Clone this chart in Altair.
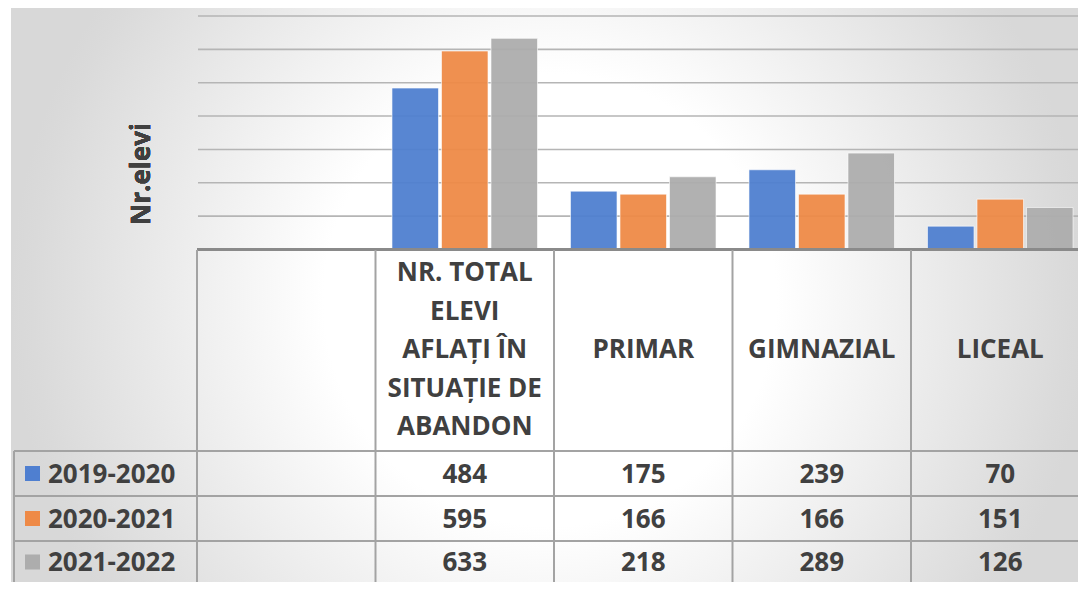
import altair as alt
import pandas as pd

# ---------------- data ----------------
categories = ["", "NR. TOTAL\nELEVI\nAFLAȚI ÎN\nSITUAȚIE DE\nABANDON", "PRIMAR", "GIMNAZIAL", "LICEAL"]
years = ["2019-2020", "2020-2021", "2021-2022"]
v_2019_2020 = [484, 175, 239, 70]
v_2020_2021 = [595, 166, 166, 151]
v_2021_2022 = [633, 218, 289, 126]
grid_values = [100, 200, 300, 400, 500, 600, 700]
y_title = "Nr.elevi"
colors = ["#4f7fd0", "#ee8a47", "#adadad"]

series = {years[0]: v_2019_2020, years[1]: v_2020_2021, years[2]: v_2021_2022}
rows = []
for yr in years:
    for c, v in zip(categories[1:], series[yr]):
        rows.append({"cat": c, "year": yr, "value": v})
df = pd.DataFrame(rows)
df_cats = pd.DataFrame({"cat": categories})
df_grid = pd.DataFrame({"g": grid_values})
df_years = pd.DataFrame({"year": years})

# ---------------- layout (pixels) ----------------
W, H = 1070, 574
LEFT = 189
STEP = 178.5
BASE = 241.5
YMAX = 724
ROW_TOP = 242
HDR_BOTTOM = 443
ROW_LINES = [443, 488, 533]
ROW_CENTERS = [465.5, 510.5, 554]
HDR_CENTER = 342
RH_LEFT = 6
LH = 38.5

FONT = "Open Sans"
FS = 26
TXT = "#404040"
LINE = "#a3a3a3"

xscale = alt.Scale(domain=categories, range=[LEFT, LEFT + 5 * STEP], paddingInner=0, paddingOuter=0)
yscale = alt.Scale(domain=[0, YMAX], range=[BASE, 0], nice=False, zero=True)
cscale = alt.Scale(domain=years, range=colors)
X = alt.X("cat:N", scale=xscale, axis=None)

# background radial gradient
bg = alt.Chart(pd.DataFrame({"a": [0]})).mark_rect(
    fill=alt.RadialGradient(
        gradient="radial", x1=0.5, y1=0.5, x2=0.5, y2=0.5, r1=0, r2=0.5,
        stops=[
            alt.GradientStop(offset=0, color="#ffffff"),
            alt.GradientStop(offset=0.42, color="#ffffff"),
            alt.GradientStop(offset=0.96, color="#dadada"),
            alt.GradientStop(offset=1, color="#d8d8d8"),
        ],
    )
).encode(x=alt.value(542 - 539), x2=alt.value(542 + 539), y=alt.value(292 - 539), y2=alt.value(292 + 539))

grid = alt.Chart(df_grid).mark_rule(color="#b5b5b5", strokeWidth=1.6).encode(
    y=alt.Y("g:Q", scale=yscale, axis=None),
    x=alt.value(LEFT + 1), x2=alt.value(W),
)

bars = alt.Chart(df).mark_bar(stroke="#ffffff", strokeWidth=1, strokeOpacity=0.6, fillOpacity=0.95).encode(
    x=X,
    xOffset=alt.XOffset("year:N", scale=alt.Scale(domain=years, paddingInner=0.06, paddingOuter=0.333)),
    y=alt.Y("value:Q", scale=yscale, axis=None),
    color=alt.Color("year:N", scale=cscale, legend=None),
)

axis_line = alt.Chart(df_grid).mark_rule(color="#8a8a8a", strokeWidth=2.5).encode(
    x=alt.value(LEFT), x2=alt.value(W), y=alt.value(BASE)
)

vlines = alt.Chart(df_cats).mark_rule(color=LINE, strokeWidth=2).encode(
    x=alt.X("cat:N", scale=xscale, axis=None, bandPosition=0),
    y=alt.value(ROW_TOP), y2=alt.value(H + 10),
)
rh_left = alt.Chart(df_grid).mark_rule(color=LINE, strokeWidth=2).encode(
    x=alt.value(RH_LEFT), y=alt.value(HDR_BOTTOM), y2=alt.value(H + 10)
)
hlines = [
    alt.Chart(df_grid).mark_rule(color=LINE, strokeWidth=2).encode(
        x=alt.value(RH_LEFT), x2=alt.value(W), y=alt.value(yy)
    )
    for yy in ROW_LINES
]

header_layers = []
for c in categories:
    if not c:
        continue
    n_lines = c.count("\n") + 1
    header_layers.append(
        alt.Chart(df_cats).transform_filter(alt.datum.cat == c).mark_text(
            font=FONT, fontSize=FS, fontWeight="bold", color=TXT, lineBreak="\n", lineHeight=LH,
            align="center", baseline="middle",
        ).encode(x=X, y=alt.value(HDR_CENTER - (n_lines - 1) * LH / 2), text="cat:N")
    )

value_layers = []
key_layers = []
for yr, yc in zip(years, ROW_CENTERS):
    value_layers.append(
        alt.Chart(df).transform_filter(alt.datum.year == yr).mark_text(
            font=FONT, fontSize=FS, fontWeight="bold", color=TXT, align="center", baseline="middle"
        ).encode(x=X, y=alt.value(yc + 1), text="value:Q")
    )
    key_layers.append(
        alt.Chart(df_years).transform_filter(alt.datum.year == yr).mark_rect().encode(
            x=alt.value(17), x2=alt.value(32), y=alt.value(yc - 7.5), y2=alt.value(yc + 7.5),
            color=alt.Color("year:N", scale=cscale, legend=None),
        )
    )
    key_layers.append(
        alt.Chart(df_years).transform_filter(alt.datum.year == yr).mark_text(
            font=FONT, fontSize=FS, fontWeight="bold", color=TXT, align="left", baseline="middle"
        ).encode(x=alt.value(40), y=alt.value(yc + 1), text="year:N")
    )

ytitle = alt.Chart(df_grid).mark_text(
    font=FONT, fontSize=FS, fontWeight="bold", color=TXT, angle=270, align="center", baseline="middle"
).encode(x=alt.value(134), y=alt.value(166), text=alt.value(y_title))

chart = alt.layer(
    bg, grid, bars, axis_line, vlines, rh_left, *hlines, *header_layers, *value_layers, *key_layers, ytitle
).properties(width=W, height=H, padding=0, autosize="none").configure_view(stroke=None)

chart.save("out.html", embed_options={"renderer": "svg", "actions": False})
